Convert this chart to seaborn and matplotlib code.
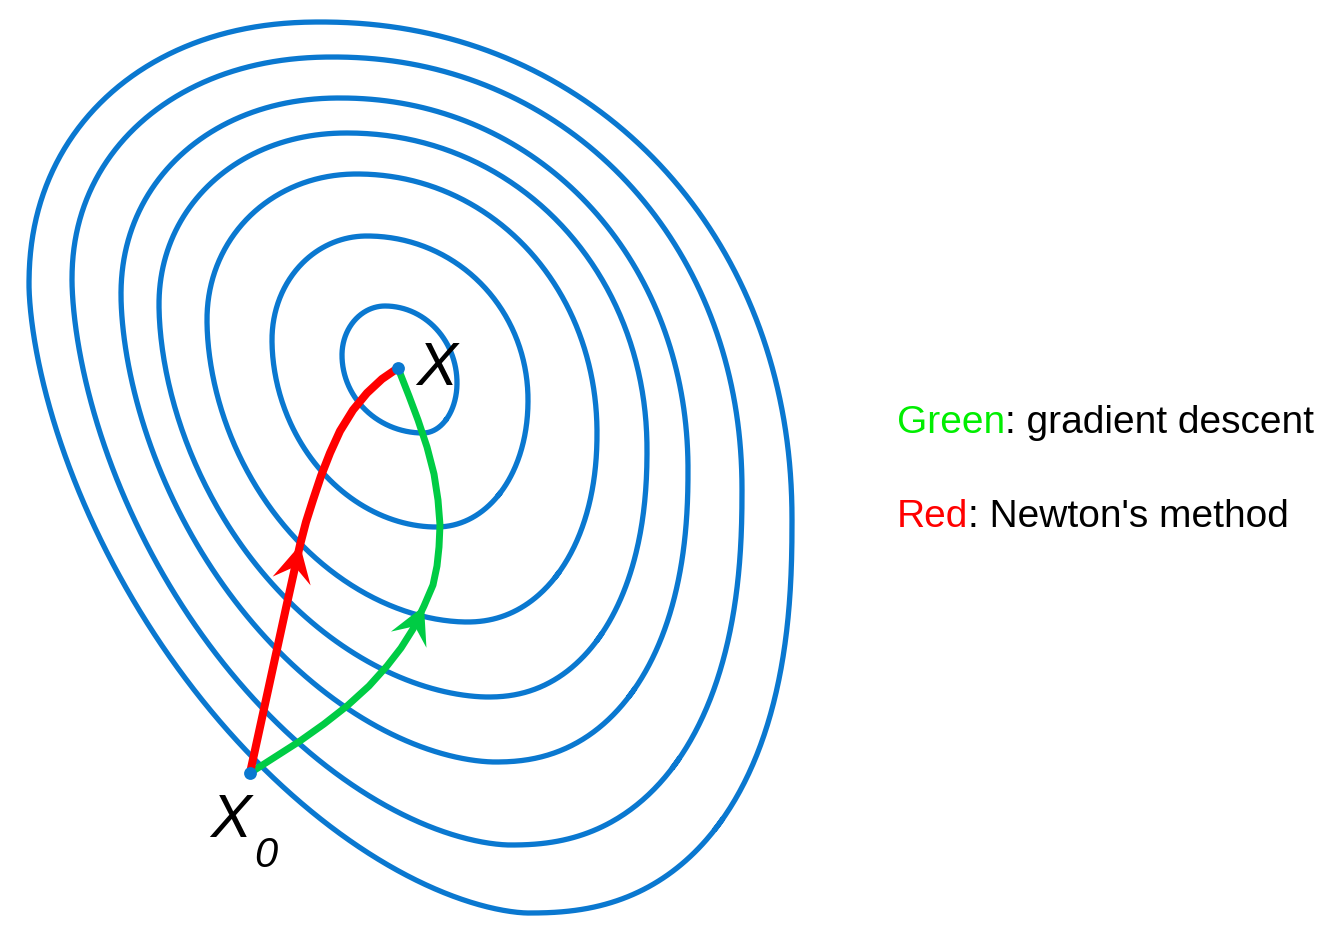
import numpy as np
import pandas as pd
import matplotlib
matplotlib.use("Agg")
import matplotlib.pyplot as plt
import seaborn as sns

# ---- data (pixel coordinates of the picture, y grows downward) ----
# contour extreme points, outer -> inner
contour_level = [1, 2, 3, 4, 5, 6, 7]
top_x = [320, 333, 340, 347, 357, 367, 385]
top_y = [22, 57, 98, 133, 174, 236, 306]
left_x = [29, 72, 121, 159, 207, 272, 342]
left_y = [285, 280, 295, 305, 320, 340, 355]
right_x = [792, 742, 688, 647, 597, 528, 457]
right_y = [520, 490, 470, 450, 433, 400, 383]
bottom_x = [528, 510, 495, 488, 467, 436, 423]
bottom_y = [913, 845, 762, 697, 622, 527, 433]

# optimisation paths from x0 to x*
red_x = [250, 262, 274, 286, 300, 306, 313, 321, 330, 340, 353, 367, 382, 398]
red_y = [773, 718, 663, 608, 545, 522, 500, 476, 453, 431, 410, 393, 379, 368]
green_x = [250, 275, 300, 324, 347, 369, 387, 401, 413, 424, 433, 437, 439,
           440, 438, 434, 427, 418, 409, 398]
green_y = [773, 757, 741, 724, 706, 686, 666, 648, 629, 606, 585, 566, 547,
           525, 500, 474, 447, 420, 396, 368]
red_arrow_idx = 4
green_arrow_idx = 9

points_x = [250, 398]
points_y = [773, 368]

legend_labels = ["Green", ": gradient descent", "Red", ": Newton's method"]

# ---- styles ----
BLUE = "#0A78D0"
RED = "#FF0000"
GREEN = "#00CC44"
TEXT_GREEN = "#00EE00"
FONT = ["Liberation Sans", "DejaVu Sans"]

# quadrant exponents for the outer contour (UL, UR, LR, LL); inner ones tend to 2
n_outer = dict(UL=2.15, UR=2.08, LR=2.4, LL=1.65)


def contour_path(k, npts=150):
    xt, yt = top_x[k], top_y[k]
    xl, yl = left_x[k], left_y[k]
    xr, yr = right_x[k], right_y[k]
    xb, yb = bottom_x[k], bottom_y[k]
    frac = k / (len(contour_level) - 1)
    n = {q: v + frac * (2.0 - v) for q, v in n_outer.items()}
    t = np.linspace(0, np.pi / 2, npts)

    def cs(q):
        return np.cos(t) ** (2 / n[q]), np.sin(t) ** (2 / n[q])

    C, S = cs("UR")
    ur = np.c_[xt + (xr - xt) * C, yr - (yr - yt) * S][::-1]
    C, S = cs("LR")
    lr = np.c_[xb + (xr - xb) * C, yr + (yb - yr) * S]
    C, S = cs("LL")
    ll = np.c_[xb - (xb - xl) * C, yl + (yb - yl) * S][::-1]
    C, S = cs("UL")
    ul = np.c_[xt - (xt - xl) * C, yl - (yl - yt) * S]
    loop = np.vstack([ur[:-1], lr[:-1], ll[:-1], ul[:-1]])
    # start the stroke on the right-hand side and overlap a few samples
    loop = np.roll(loop, -(npts + npts // 2), axis=0)
    return np.vstack([loop, loop[:6]])


rows = []
for k, lev in enumerate(contour_level):
    p = contour_path(k)
    for j, (x, y) in enumerate(p):
        rows.append((lev, j, x, y))
contours = pd.DataFrame(rows, columns=["level", "order", "x", "y"])

red_df = pd.DataFrame({"x": red_x, "y": red_y})
green_df = pd.DataFrame({"x": green_x, "y": green_y})
pts_df = pd.DataFrame({"x": points_x, "y": points_y})

sns.set_theme(style="white")
plt.rcParams["font.family"] = FONT

fig = plt.figure(figsize=(13.44, 9.38), dpi=100)
ax = fig.add_axes([0, 0, 1, 1])

sns.lineplot(data=contours, x="x", y="y", units="level", estimator=None,
             sort=False, color=BLUE, lw=3.8, legend=False, ax=ax,
             solid_capstyle="butt", solid_joinstyle="round")
sns.lineplot(data=green_df, x="x", y="y", estimator=None, sort=False,
             color=GREEN, lw=5.0, legend=False, ax=ax,
             solid_capstyle="round", solid_joinstyle="round")
sns.lineplot(data=red_df, x="x", y="y", estimator=None, sort=False,
             color=RED, lw=5.8, legend=False, ax=ax,
             solid_capstyle="round", solid_joinstyle="round")


def arrow_head(xs, ys, i, color, L=37, W=19.5, notch=0.6):
    tip = np.array([xs[i], ys[i]], float)
    d = np.array([xs[i + 1] - xs[i - 1], ys[i + 1] - ys[i - 1]], float)
    d /= np.hypot(*d)
    nrm = np.array([-d[1], d[0]])
    back = tip - L * d
    poly = np.array([tip, back + W * nrm, tip - notch * L * d, back - W * nrm])
    ax.fill(poly[:, 0], poly[:, 1], color=color, lw=0, zorder=5)


arrow_head(red_x, red_y, red_arrow_idx, RED)
arrow_head(green_x, green_y, green_arrow_idx, GREEN)

sns.scatterplot(data=pts_df, x="x", y="y", color=BLUE, s=85, linewidth=0,
                legend=False, ax=ax, zorder=6)

# point labels
ax.text(416, 385, "X", fontsize=44, style="italic", family=FONT,
        ha="left", va="baseline", color="black")
ax.text(210, 837, "X", fontsize=44, style="italic", family=FONT,
        ha="left", va="baseline", color="black")
ax.text(254, 867, "0", fontsize=30, style="italic", family=FONT,
        ha="left", va="baseline", color="black")

# legend text
FS = 28
t1 = ax.text(897, 433, legend_labels[0], fontsize=FS, color=TEXT_GREEN,
             family=FONT, ha="left", va="baseline")
ax.annotate(legend_labels[1], xy=(1, 0), xycoords=t1, fontsize=FS,
            color="black", family=FONT, ha="left", va="bottom")
t2 = ax.text(897, 527, legend_labels[2], fontsize=FS, color=RED,
             family=FONT, ha="left", va="baseline")
ax.annotate(legend_labels[3], xy=(1, 0), xycoords=t2, fontsize=FS,
            color="black", family=FONT, ha="left", va="bottom")

ax.set_xlim(0, 1344)
ax.set_ylim(938, 0)
ax.set_axis_off()

fig.savefig("out.png", dpi=100, facecolor="white")
